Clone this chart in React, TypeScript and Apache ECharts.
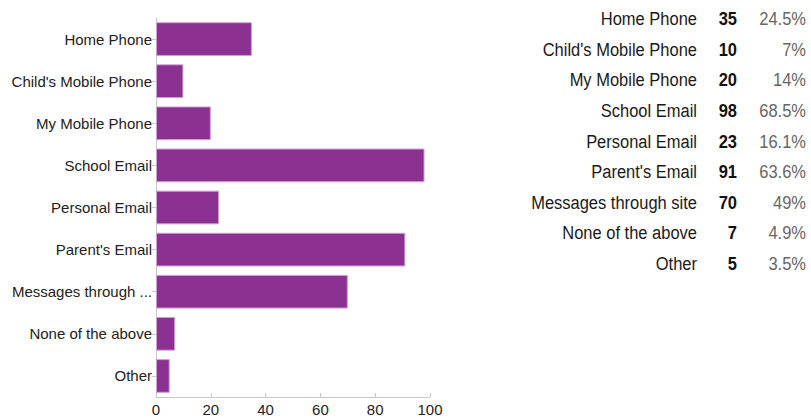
import React, { useEffect, useRef } from "react";
import * as echarts from "echarts";

const categories = [
  "Home Phone",
  "Child's Mobile Phone",
  "My Mobile Phone",
  "School Email",
  "Personal Email",
  "Parent's Email",
  "Messages through site",
  "None of the above",
  "Other",
];
const counts = [35, 10, 20, 98, 23, 91, 70, 7, 5];
const percents = ["24.5%", "7%", "14%", "68.5%", "16.1%", "63.6%", "49%", "4.9%", "3.5%"];
const xTicks = { min: 0, max: 100, interval: 20 };

const FONT = "'Liberation Sans', Arial, Helvetica, sans-serif";

export default function App() {
  const ref = useRef<HTMLDivElement>(null);
  useEffect(() => {
    document.body.style.margin = "0";
    if (!ref.current) return;
    const chart = echarts.init(ref.current, null, { renderer: "svg" });

    const rowTop = 19;
    const rowStep = 30.6;
    const graphics: any[] = [];
    categories.forEach((c, i) => {
      const y = rowTop + i * rowStep;
      graphics.push({
        type: "text",
        x: 697,
        y,
        scaleY: 1.1,
        style: {
          text: c,
          align: "right",
          verticalAlign: "middle",
          font: `16.5px ${FONT}`,
          fill: "#1a1a1a",
        },
      });
      graphics.push({
        type: "text",
        x: 737,
        y,
        scaleY: 1.1,
        style: {
          text: String(counts[i]),
          align: "right",
          verticalAlign: "middle",
          font: `bold 16.5px ${FONT}`,
          fill: "#111",
        },
      });
      graphics.push({
        type: "text",
        x: 806,
        y,
        scaleY: 1.1,
        style: {
          text: percents[i],
          align: "right",
          verticalAlign: "middle",
          font: `16.5px ${FONT}`,
          fill: "#666",
        },
      });
    });

    chart.setOption({
      animation: false,
      grid: { left: 156, right: 381, top: 18, bottom: 23, containLabel: false },
      xAxis: {
        type: "value",
        min: xTicks.min,
        max: xTicks.max,
        interval: xTicks.interval,
        splitLine: { show: false },
        axisLine: { show: true, lineStyle: { color: "#c8c8c8", width: 1 } },
        axisTick: { show: true, inside: true, length: 4, lineStyle: { color: "#c8c8c8" } },
        axisLabel: { color: "#222", fontSize: 15, fontFamily: FONT, margin: 5 },
      },
      yAxis: {
        type: "category",
        inverse: true,
        data: categories,
        axisLine: { show: true, lineStyle: { color: "#c8c8c8", width: 1 } },
        axisTick: { show: true, alignWithLabel: true, length: 4, lineStyle: { color: "#c8c8c8" } },
        axisLabel: {
          color: "#222",
          fontSize: 15,
          fontFamily: FONT,
          margin: 4,
          formatter: (v: string) => (v.length > 20 ? v.slice(0, 17) + "..." : v),
        },
      },
      series: [
        {
          type: "bar",
          data: counts,
          barCategoryGap: "20%",
          itemStyle: { color: "#8a3191", borderColor: "#cf9fd3", borderWidth: 1 },
        },
      ],
      graphic: graphics,
    });
    return () => chart.dispose();
  }, []);
  return <div ref={ref} style={{ width: 811, height: 420 }} />;
}
